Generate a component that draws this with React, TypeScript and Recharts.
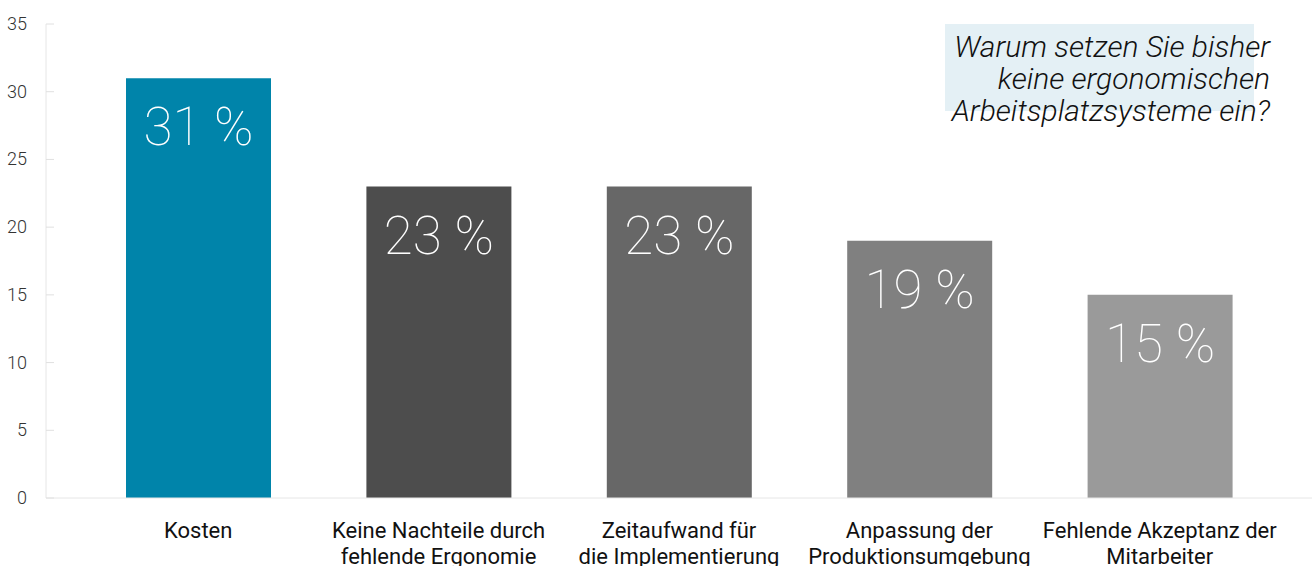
import { Bar, BarChart, Cell, LabelList, XAxis, YAxis } from 'recharts';

const categories = [
  'Kosten',
  'Keine Nachteile durch\nfehlende Ergonomie',
  'Zeitaufwand für\ndie Implementierung',
  'Anpassung der\nProduktionsumgebung',
  'Fehlende Akzeptanz der\nMitarbeiter',
];
const shares = [31, 23, 23, 19, 15];
const barColors = ['#0084aa', '#4d4d4d', '#676767', '#808080', '#9a9a9a'];
const yTicks = [0, 5, 10, 15, 20, 25, 30, 35];
const questionLines = ['Warum setzen Sie bisher', 'keine ergonomischen', 'Arbeitsplatzsysteme ein?'];

const data = categories.map((name, i) => ({ name, value: shares[i] }));

const FONT = 'Roboto, "Noto Sans", sans-serif';

function YTick({ x, y, payload }: any) {
  return (
    <g>
      <line x1={x} x2={x + 8} y1={y} y2={y} stroke="#e0e0e0" />
      <text x={x - 19} y={y} dy={6} textAnchor="end" fontSize={18} fontWeight={300} fill="#333" fontFamily={FONT}>
        {payload.value}
      </text>
    </g>
  );
}

function XTick({ x, y, payload }: any) {
  const lines = String(payload.value).split('\n');
  return (
    <text x={x} y={y} textAnchor="middle" fontSize={22} fill="#111" fontFamily={FONT}>
      {lines.map((line, i) => (
        <tspan key={i} x={x} dy={i === 0 ? 40 : 26}>
          {line}
        </tspan>
      ))}
    </text>
  );
}

function ShareLabel({ x, y, width, value }: any) {
  return (
    <text
      x={x + width / 2}
      y={y + 67}
      textAnchor="middle"
      fontSize={53}
      fontWeight={100}
      fill="#fff"
      fontFamily={FONT}
    >
      {`${value} %`}
    </text>
  );
}

export default function App() {
  return (
    <div style={{ position: 'absolute', left: 0, top: 0, width: 1315, height: 566, fontFamily: FONT }}>
      <div
        style={{
          position: 'absolute',
          left: 945,
          top: 24,
          width: 309,
          height: 87,
          background: '#e4f0f5',
        }}
      />
      <BarChart width={1315} height={566} data={data} margin={{ top: 24, right: 3, left: 0, bottom: 0 }}>
        <XAxis
          dataKey="name"
          axisLine={{ stroke: '#e6e6e6' }}
          tickLine={false}
          tickSize={0}
          tickMargin={0}
          height={68}
          padding={{ left: 32, right: 32 }}
          interval={0}
          tick={<XTick />}
        />
        <YAxis
          width={46}
          domain={[0, 35]}
          ticks={yTicks}
          axisLine={{ stroke: '#e6e6e6' }}
          tickLine={false}
          tickSize={0}
          tickMargin={0}
          tick={<YTick />}
        />
        <Bar dataKey="value" barSize={145} isAnimationActive={false}>
          {data.map((d, i) => (
            <Cell key={d.name} fill={barColors[i]} />
          ))}
          <LabelList dataKey="value" content={<ShareLabel />} />
        </Bar>
      </BarChart>
      <div
        style={{
          position: 'absolute',
          left: 0,
          top: 31,
          width: 1270,
          textAlign: 'right',
          fontSize: 30,
          lineHeight: '32px',
          fontStyle: 'italic',
          fontWeight: 300,
          color: '#111',
          pointerEvents: 'none',
        }}
      >
        {questionLines.map((line) => (
          <div key={line}>{line}</div>
        ))}
      </div>
    </div>
  );
}
